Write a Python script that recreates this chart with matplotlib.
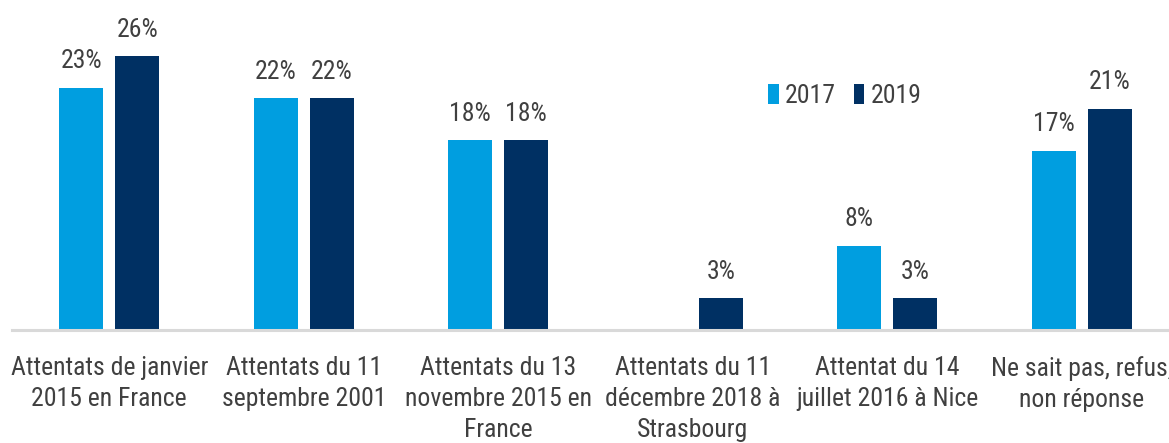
import numpy as np
import matplotlib
matplotlib.use("Agg")
import matplotlib.pyplot as plt
from matplotlib.patches import Patch
from matplotlib import font_manager as fm

categories = [
    "Attentats de janvier\n2015 en France",
    "Attentats du 11\nseptembre 2001",
    "Attentats du 13\nnovembre 2015 en\nFrance",
    "Attentats du 11\ndécembre 2018 à\nStrasbourg",
    "Attentat du 14\njuillet 2016 à Nice",
    "Ne sait pas, refus,\nnon réponse",
]
series_names = ["2017", "2019"]
values_2017 = [23, 22, 18, np.nan, 8, 17]
values_2019 = [26, 22, 18, 3, 3, 21]

colors = ["#009EE0", "#003063"]
text_color = "#404040"


def narrow_font():
    """Return a FontProperties for a narrow sans face, if one is installed."""
    narrow = ("condensed", "semi-condensed", "extra-condensed", "ultra-condensed")
    cands = []
    for f in fm.fontManager.ttflist:
        if f.style != "normal" or f.weight not in (400, "normal", "regular", "book"):
            continue
        name = f.name.lower()
        fname = f.fname.lower()
        if (str(f.stretch) in narrow or "narrow" in name or "condensed" in name
                or "condensed" in fname or "narrow" in fname):
            if "mono" in name or "serif" in name and "sans" not in name:
                continue
            cands.append(f)
    if not cands:
        return None
    order = ["liberation sans narrow", "roboto condensed", "open sans",
             "noto sans", "dejavu sans", "lato", "inter"]

    def rank(f):
        n = f.name.lower()
        for i, o in enumerate(order):
            if n.startswith(o):
                return i
        return len(order)
    best = sorted(cands, key=rank)[0]
    return fm.FontProperties(fname=best.fname)


fp = narrow_font()
if fp is None:
    fp = fm.FontProperties(family="DejaVu Sans")
    fp.set_size(13.5)
else:
    fp.set_size(18.5)

W, H = 1169, 443
fig = plt.figure(figsize=(W / 100, H / 100), dpi=100)
ax = fig.add_axes([12 / W, 1 - 330 / H, 1167 / W, 316 / H])

x = np.arange(len(categories))
offset = 0.144
width = 0.226

for vals, dx, color in ((values_2017, -offset, colors[0]),
                        (values_2019, offset, colors[1])):
    for xi, v in zip(x, vals):
        if np.isnan(v):
            continue
        ax.bar(xi + dx, v, width=width, color=color, zorder=2)
        ax.annotate(f"{v:.0f}%", (xi + dx, v), xytext=(0, 14),
                    textcoords="offset points", ha="center", va="baseline",
                    fontproperties=fp, color=text_color)

ax.set_xlim(-0.5, 5.5)
ax.set_ylim(0, 30)
ax.set_yticks([])
ax.set_xticks(x)
ax.set_xticklabels(categories, fontproperties=fp, color=text_color,
                   linespacing=1.36)
ax.tick_params(axis="x", length=0, pad=19)
for side in ("left", "right", "top"):
    ax.spines[side].set_visible(False)
ax.spines["bottom"].set_color("#D9D9D9")
ax.spines["bottom"].set_linewidth(2.2)
ax.spines["bottom"].set_zorder(3)

handles = [Patch(facecolor=c, label=n) for c, n in zip(colors, series_names)]
leg = ax.legend(handles=handles, loc="center", bbox_to_anchor=(845 / W, 1 - 96 / H),
                bbox_transform=fig.transFigure, ncol=2, frameon=False,
                handlelength=0.4, handleheight=0.85, handletextpad=0.25,
                columnspacing=0.7, prop=fp)
for t in leg.get_texts():
    t.set_color(text_color)

fig.savefig("out.png", dpi=100)
